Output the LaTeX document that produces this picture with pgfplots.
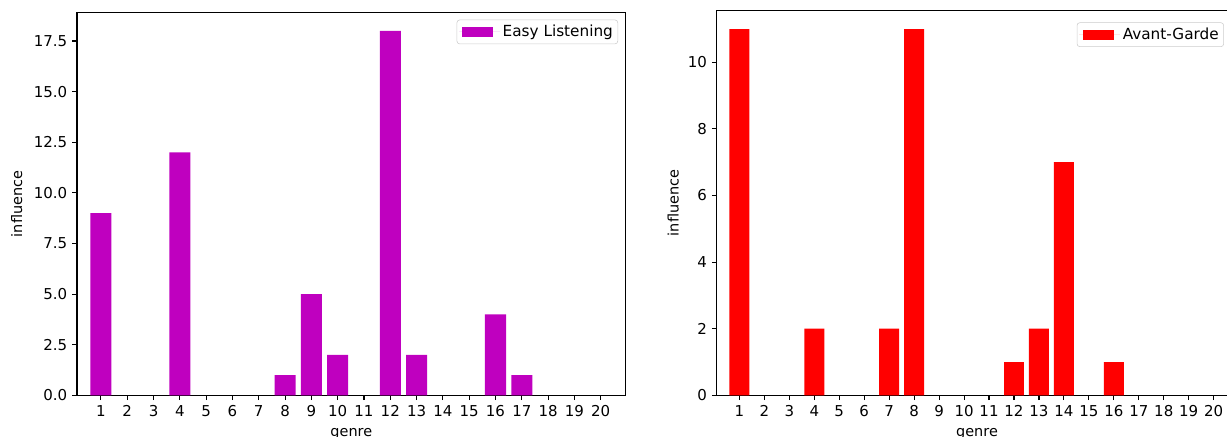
\documentclass[border=0pt]{standalone}
\usepackage{fontspec}
\setmainfont{DejaVu Sans}
\usepackage{pgfplots}
\pgfplotsset{compat=1.18}
\definecolor{mplm}{rgb}{0.75,0,0.75}
\definecolor{mplr}{rgb}{1,0,0}
\definecolor{legframe}{rgb}{0.8,0.8,0.8}

\pgfplotsset{
  mpl/.style={
    scale only axis,
    axis line style={line width=0.8pt,black},
    every tick/.style={line width=0.8pt,black},
    tick align=outside,
    major tick length=3.5pt,
    xtick pos=bottom, ytick pos=left,
    xmin=0.09, xmax=20.95, ymin=0,
    xtick={1,...,20},
    ybar, bar width=0.8, bar shift=0pt,
    /pgf/number format/assume math mode=true,
    tick label style={font=\fontsize{10.8}{13}\selectfont, black},
    label style={font=\fontsize{10.4}{12.5}\selectfont},
    ylabel={influence}, xlabel={genre},
    legend style={at={(1,1)}, anchor=north east, xshift=-5.5pt, yshift=-5pt,
      draw=legframe, rounded corners=2pt, fill=white, fill opacity=0.8, text opacity=1,
      font=\fontsize{11}{13}\selectfont, inner xsep=1.5pt, inner ysep=1.7pt,
      legend cell align=left},
    legend image code/.code={%
      \path (0pt,0pt) -- (29.4pt,0pt);
      \fill[##1, fill opacity=1, sharp corners] (2.5pt,-3.5pt) rectangle (24.8pt,3.5pt);},
  }
}

\begin{document}
\begin{tikzpicture}
\useasboundingbox (0,0) rectangle (883.44pt,313.92pt);
\clip (0,0) rectangle (883.44pt,313.92pt);
\begin{scope}[overlay]
\begin{axis}[mpl,
  at={(55.44pt,29.30pt)}, anchor=south west,
  width=395.06pt, height=275.47pt,
  ymax=18.9, ytick={0,2.5,5,7.5,10,12.5,15,17.5},
  yticklabel style={/pgf/number format/.cd, fixed, fixed zerofill, precision=1},
  ylabel style={at={(axis description cs:-0.1099,0.5)}, anchor=center},
  xlabel style={at={(axis description cs:0.5,-0.1085)}, anchor=base},
]
\addplot[fill=mplm, draw=none] coordinates {
(1,9) (4,12) (8,1) (9,5) (10,2) (12,18) (13,2) (16,4) (17,1)};
\addlegendentry{Easy Listening}
\end{axis}

\begin{axis}[mpl,
  at={(516.02pt,29.30pt)}, anchor=south west,
  width=374.9pt, height=276.9pt,
  ymax=11.55, ytick={0,2,4,6,8,10},
  ylabel style={at={(axis description cs:-0.0834,0.5)}, anchor=center},
  xlabel style={at={(axis description cs:0.5,-0.108)}, anchor=base},
  legend style={xshift=-4.2pt, yshift=-3.4pt},
]
\addplot[fill=mplr, draw=none] coordinates {
(1,11) (4,2) (7,2) (8,11) (12,1) (13,2) (14,7) (16,1)};
\addlegendentry{Avant-Garde}
\end{axis}
\end{scope}
\end{tikzpicture}
\end{document}
